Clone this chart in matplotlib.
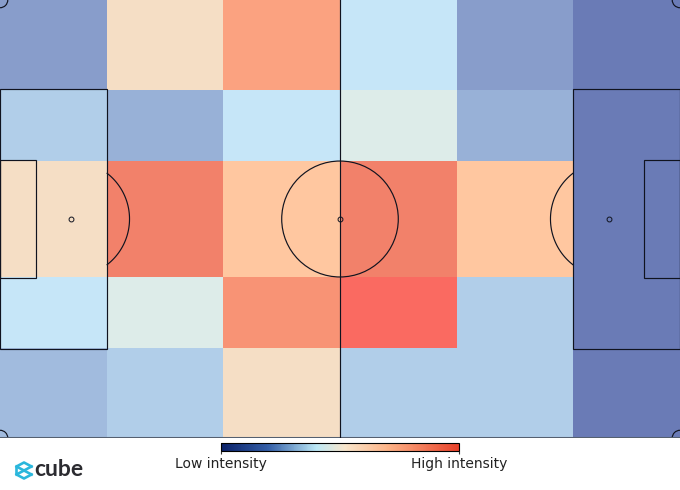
import matplotlib
matplotlib.use("Agg")
import matplotlib.pyplot as plt
import numpy as np
from matplotlib.cm import ScalarMappable
from matplotlib.colors import LinearSegmentedColormap, Normalize
from matplotlib.lines import Line2D
from matplotlib.patches import Arc, Circle, Rectangle

# zones, left to right / top to bottom
x_edges = [0, 16.5, 34.5, 52.5, 70.5, 88.5, 105]
y_edges = [68, 54.03, 43.0, 25.0, 13.97, 0]

row_1 = [0.13, 0.52, 0.76, 0.40, 0.13, 0.00]
row_2 = [0.31, 0.20, 0.40, 0.46, 0.20, 0.00]
row_3 = [0.52, 0.90, 0.64, 0.90, 0.64, 0.00]
row_4 = [0.40, 0.46, 0.82, 1.00, 0.31, 0.00]
row_5 = [0.24, 0.31, 0.52, 0.31, 0.31, 0.00]

# cells are drawn with alpha, the scale bar is opaque
cell_stops = [
    (0.00, "#0f2a89"),
    (0.40, "#a3d7f5"),
    (0.46, "#cae1dc"),
    (0.52, "#efcba3"),
    (0.64, "#ffa566"),
    (0.78, "#f95f2a"),
    (0.90, "#ea350f"),
    (1.00, "#f70f00"),
]
bar_stops = [
    (0.00, "#0a2068"),
    (0.20, "#3560a8"),
    (0.40, "#bce8f6"),
    (0.52, "#f8e6cc"),
    (0.70, "#fdb488"),
    (1.00, "#e8412a"),
]
cell_cmap = LinearSegmentedColormap.from_list("cells", cell_stops)
bar_cmap = LinearSegmentedColormap.from_list("bar", bar_stops)
norm = Normalize(0, 1)

LINE = "#10131f"
LW = 0.85


def draw_pitch(ax):
    ax.plot([0, 105], [0, 0], color="#556070", lw=2.2, clip_on=True)
    ax.plot([52.5, 52.5], [0, 68], color=LINE, lw=LW)
    ax.add_patch(Circle((52.5, 34), 9.0, fill=False, ec=LINE, lw=LW))
    ax.plot(52.5, 34, "o", mfc="none", mec=LINE, ms=3.5, mew=0.7)

    for x0, sign in [(0, 1), (105, -1)]:
        box_x = x0 if sign == 1 else x0 - 16.5
        ax.add_patch(Rectangle((box_x, 13.84), 16.5, 40.32, fill=False, ec=LINE, lw=LW))
        small_x = x0 if sign == 1 else x0 - 5.5
        ax.add_patch(Rectangle((small_x, 24.84), 5.5, 18.32, fill=False, ec=LINE, lw=LW))
        spot = x0 + sign * 11
        ax.plot(spot, 34, "o", mfc="none", mec=LINE, ms=3.5, mew=0.7)
        t = np.linspace(-52.0, 52.0, 60) * np.pi / 180
        ax.plot(spot + sign * 9.0 * np.cos(t), 34 + 9.0 * np.sin(t), color=LINE, lw=LW)

    for x, y, t1 in [(0, 0, 0), (105, 0, 90), (105, 68, 180), (0, 68, 270)]:
        ax.add_patch(Arc((x, y), 2.4, 2.4, theta1=t1, theta2=t1 + 90, ec=LINE, lw=LW))


fig = plt.figure(figsize=(6.8, 4.9), dpi=100)
ax = fig.add_axes([0, 52 / 490, 1, 438 / 490])
values = np.array([row_1, row_2, row_3, row_4, row_5])
ax.pcolormesh(x_edges, y_edges, values, cmap=cell_cmap, norm=norm, alpha=0.62, edgecolors="none")
draw_pitch(ax)
ax.set_xlim(0, 105)
ax.set_ylim(0, 68)
ax.axis("off")

# intensity scale
cax = fig.add_axes([221 / 680, 39 / 490, 238 / 680, 8 / 490])
cbar = fig.colorbar(ScalarMappable(norm=norm, cmap=bar_cmap), cax=cax, orientation="horizontal")
cbar.set_ticks([0, 1])
cbar.set_ticklabels(["Low intensity", "High intensity"])
cbar.ax.tick_params(length=2.5, width=0.8, labelsize=10, pad=2, color="#333333", labelcolor="#222222")
cbar.outline.set_linewidth(0.8)

# logo
logo = fig.add_axes([0, 0, 1, 1], facecolor="none")
logo.set_xlim(0, 680)
logo.set_ylim(490, 0)
logo.axis("off")
logo_blue = "#2bb7dc"
logo.add_line(Line2D([31.5, 24, 16.5, 16.5, 24, 31.5], [466.5, 462.5, 466.5, 474.5, 478.5, 474.5], color=logo_blue, lw=1.9))
logo.add_line(Line2D([31.5, 16.5], [466.5, 474.5], color=logo_blue, lw=1.9))
logo.add_line(Line2D([16.5, 31.5], [466.5, 474.5], color=logo_blue, lw=1.9))
logo.text(34.5, 469.5, "cube", family="Lato", weight="bold", size=16.5, color="#2b2b30", va="center", ha="left")

fig.savefig("out.png", dpi=100)
